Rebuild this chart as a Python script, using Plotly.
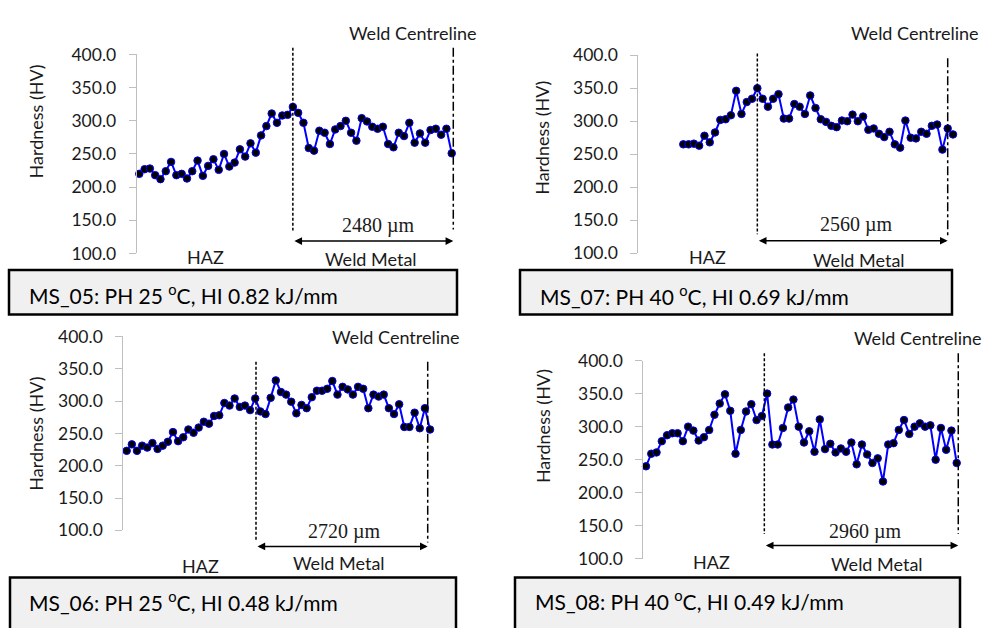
import plotly.graph_objects as go

W, H = 987, 628

# ---------------- data ----------------
specimens = ["MS_05", "MS_07", "MS_06", "MS_08"]
preheat_c = [25, 40, 25, 40]
heat_input = ["0.82", "0.69", "0.48", "0.49"]
weld_width_um = [2480, 2560, 2720, 2960]

ms05_hv = [220, 227, 228, 218, 212, 224, 238, 218, 220, 213, 224, 240, 217, 232, 242,
           226, 250, 231, 237, 257, 246, 266, 252, 278, 292, 311, 297, 308, 309, 321,
           312, 297, 259, 255, 285, 282, 265, 287, 292, 300, 282, 270, 304, 299, 291,
           288, 291, 265, 260, 282, 277, 297, 267, 281, 267, 286, 288, 279, 288, 251]
ms07_hv = [265, 265, 266, 263, 278, 268, 283, 302, 303, 309, 346, 311, 329, 334, 350,
           334, 322, 334, 341, 304, 304, 326, 322, 311, 339, 320, 303, 299, 293, 291,
           301, 300, 310, 300, 307, 287, 289, 281, 276, 284, 265, 260, 301, 275, 274,
           284, 281, 293, 295, 257, 289, 280]
ms06_hv = [223, 233, 223, 231, 228, 235, 226, 231, 237, 252, 238, 244, 256, 251, 259,
           268, 265, 277, 278, 297, 293, 304, 291, 293, 286, 304, 284, 280, 305, 332,
           314, 310, 299, 281, 294, 289, 306, 316, 316, 319, 331, 310, 322, 318, 310,
           322, 319, 289, 310, 307, 310, 289, 280, 295, 260, 260, 282, 258, 289, 256]
ms08_hv = [240, 259, 261, 278, 287, 290, 290, 278, 300, 294, 279, 284, 295, 318, 335,
           349, 324, 259, 295, 323, 334, 310, 316, 350, 273, 273, 298, 329, 341, 300,
           276, 293, 262, 311, 266, 274, 261, 267, 262, 276, 243, 273, 258, 245, 252,
           217, 273, 275, 295, 310, 289, 300, 305, 300, 302, 250, 298, 265, 294, 245]
# index (along the traverse) of the HAZ / weld metal boundary and of the weld centreline
boundary_idx = [29.0, 14.0, 25.15, 22.47]
centreline_idx = [59.3, 50.0, 58.55, 59.3]

y_ticks = [100, 150, 200, 250, 300, 350, 400]
y_ticklabels = [f"{v:.1f}" for v in y_ticks]

series = [ms05_hv, ms07_hv, ms06_hv, ms08_hv]

# ---------------- layout geometry (pixels in the 987x628 page) ----------------
geom = [
    dict(axis=136.7, right=460, first=139.3, ppi=5.295, y400=45.0, y100=250.8,
         dash=(38, 227), cent=(38, 226), arrow=238,
         wc=(412.5, 22.7), um=(378, 221.7), haz=(205, 255), wm=(371, 256.7),
         box=(9, 268, 457, 314), boxtxt=(27, 293), ytitle=(36.3, 114)),
    dict(axis=638.3, right=960, first=683.3, ppi=5.288, y400=45.7, y100=250.7,
         dash=(44, 231), cent=(49, 233), arrow=237.7,
         wc=(914.5, 22.7), um=(856, 220.7), haz=(707.7, 255), wm=(859, 257.3),
         box=(520, 268, 952, 314), boxtxt=(537.7, 294), ytitle=(542.5, 131.7)),
    dict(axis=123.3, right=436, first=126.7, ppi=5.141, y400=336.7, y100=537.3,
         dash=(363, 547), cent=(363, 550), arrow=554,
         wc=(395.5, 337.3), um=(344.7, 539), haz=(200.3, 574), wm=(339, 570.7),
         box=(10, 586, 456, 650), boxtxt=(27.3, 610), ytitle=(35.8, 437.5)),
    dict(axis=643.3, right=964, first=646.0, ppi=5.266, y400=361.7, y100=566.7,
         dash=(354, 541), cent=(354, 541), arrow=553,
         wc=(918, 338.3), um=(865, 539), haz=(711.7, 570), wm=(877, 572.3),
         box=(515, 586, 960, 650), boxtxt=(532.7, 609.3), ytitle=(542.5, 430)),
]


def xp(px):
    return px / W


def yp(py):
    return 1 - py / H


FONT = "Lato"
TXT = "#1a1a1a"
AXC = "#bfbfbf"

fig = go.Figure()
shapes = []
annotations = []
layout_axes = {}

for i, (hv, g) in enumerate(zip(series, geom)):
    n = i + 1
    xname = "x" if n == 1 else f"x{n}"
    yname = "y" if n == 1 else f"y{n}"
    xkey = "xaxis" if n == 1 else f"xaxis{n}"
    ykey = "yaxis" if n == 1 else f"yaxis{n}"

    idx = list(range(len(hv)))
    fig.add_trace(go.Scatter(
        x=idx, y=hv, xaxis=xname, yaxis=yname, mode="lines+markers",
        line=dict(color="#0000ff", width=2),
        marker=dict(color="black", size=7.5, line=dict(color="#0000ff", width=1)),
        cliponaxis=False, showlegend=False, hoverinfo="skip"))

    x_lo = (g["axis"] - g["first"]) / g["ppi"]
    x_hi = (g["right"] - g["first"]) / g["ppi"]
    layout_axes[xkey] = dict(domain=[xp(g["axis"]), xp(g["right"])],
                             range=[x_lo, x_hi], visible=False, anchor=yname)
    layout_axes[ykey] = dict(domain=[yp(g["y100"]), yp(g["y400"])], range=[100, 400],
                             anchor=xname, tickvals=y_ticks, ticktext=y_ticklabels,
                             showline=True, linecolor=AXC, linewidth=1,
                             ticks="outside", ticklen=7, tickcolor=AXC, tickwidth=1,
                             ticklabelstandoff=9, showgrid=False, zeroline=False,
                             tickfont=dict(family=FONT, size=17.5, color=TXT))

    # HAZ / weld metal boundary (dashed) and weld centreline (dash-dot)
    shapes.append(dict(type="line", xref=xname, yref="paper",
                       x0=boundary_idx[i], x1=boundary_idx[i],
                       y0=yp(g["dash"][0]), y1=yp(g["dash"][1]),
                       line=dict(color="black", width=1.5, dash="3px,2px")))
    shapes.append(dict(type="line", xref=xname, yref="paper",
                       x0=centreline_idx[i], x1=centreline_idx[i],
                       y0=yp(g["cent"][0]), y1=yp(g["cent"][1]),
                       line=dict(color="black", width=1.5, dash="dashdot")))
    # double arrow spanning the weld metal
    annotations.append(dict(x=centreline_idx[i], y=yp(g["arrow"]), xref=xname, yref="paper",
                            ax=boundary_idx[i], ay=0, axref=xname, ayref="pixel",
                            text="", showarrow=True, arrowhead=2, arrowside="end+start",
                            arrowsize=1.1, arrowwidth=1.4, arrowcolor="black",
                            standoff=0, startstandoff=0))
    # info box
    bx0, by0, bx1, by1 = g["box"]
    shapes.append(dict(type="rect", xref="paper", yref="paper",
                       x0=xp(bx0), x1=xp(bx1), y0=yp(by1), y1=yp(by0),
                       fillcolor="#f0f0f0", line=dict(color="black", width=2.5),
                       layer="below"))
    annotations.append(dict(
        x=xp(g["boxtxt"][0]), y=yp(g["boxtxt"][1]), xref="paper", yref="paper",
        xanchor="left", yanchor="middle", showarrow=False,
        text=f"{specimens[i]}: PH {preheat_c[i]} <sup>o</sup>C, HI {heat_input[i]} kJ/mm",
        font=dict(family=FONT, size=21, color="black")))

    def lab(pos, text, size=18, family=FONT):
        annotations.append(dict(x=xp(pos[0]), y=yp(pos[1]), xref="paper", yref="paper",
                                xanchor="center", yanchor="middle", showarrow=False,
                                text=text, font=dict(family=family, size=size, color=TXT)))

    lab(g["wc"], "Weld Centreline")
    lab(g["um"], f"{weld_width_um[i]} \u00b5m", size=20, family="Liberation Serif")
    lab(g["haz"], "HAZ")
    lab(g["wm"], "Weld Metal")
    annotations.append(dict(x=xp(g["ytitle"][0]), y=yp(g["ytitle"][1]), xref="paper",
                            yref="paper", xanchor="center", yanchor="middle",
                            textangle=-90, showarrow=False, text="Hardness (HV)",
                            font=dict(family=FONT, size=18, color=TXT)))

fig.update_layout(
    width=W, height=H, margin=dict(l=0, r=0, t=0, b=0),
    paper_bgcolor="white", plot_bgcolor="rgba(0,0,0,0)",
    shapes=shapes, annotations=annotations, showlegend=False,
    **layout_axes)

fig.write_html("out.html", config=dict(displayModeBar=False))
